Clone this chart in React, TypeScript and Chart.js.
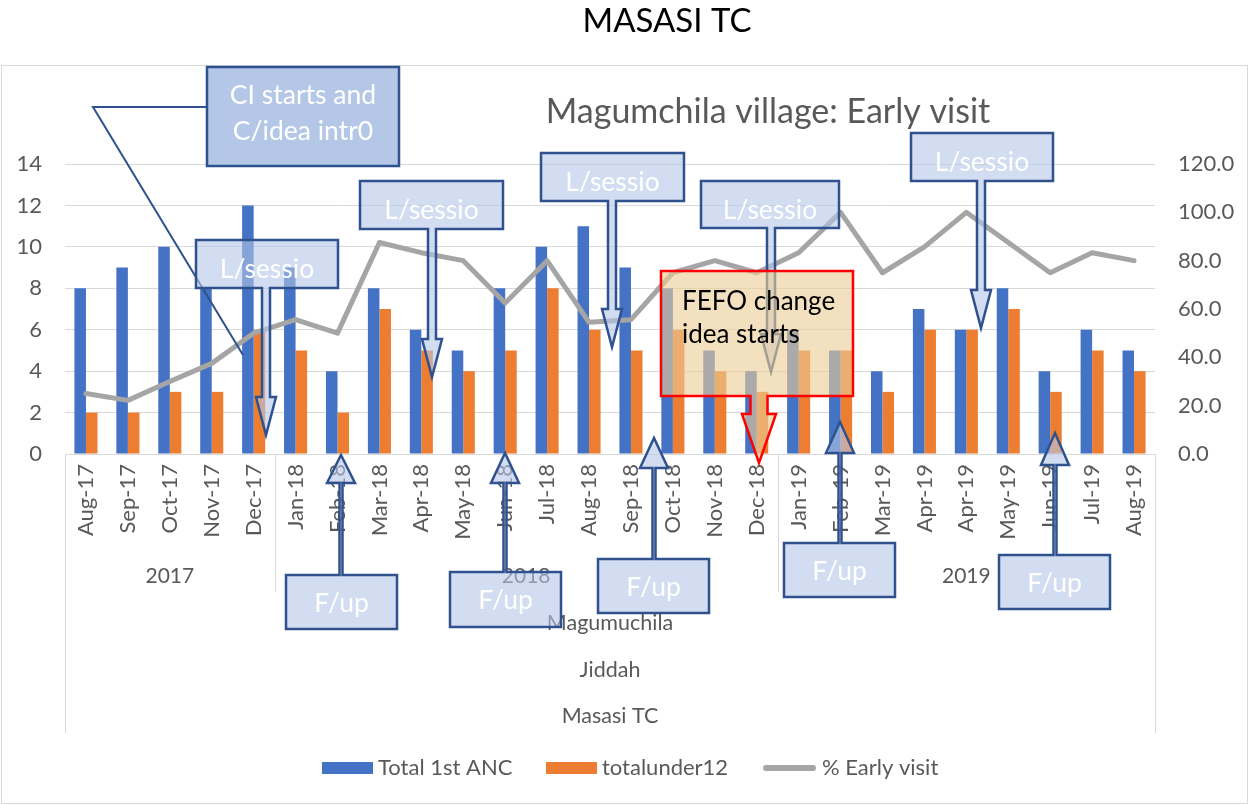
import React, { useEffect, useRef } from "react";
import { Chart, registerables } from "chart.js";
Chart.register(...registerables);

// ---------- data ----------
const months = [
  "Aug-17", "Sep-17", "Oct-17", "Nov-17", "Dec-17",
  "Jan-18", "Feb-18", "Mar-18", "Apr-18", "May-18", "Jun-18", "Jul-18",
  "Aug-18", "Sep-18", "Oct-18", "Nov-18", "Dec-18",
  "Jan-19", "Feb-19", "Mar-19", "Apr-19", "Apr-19", "May-19", "Jun-19", "Jul-19", "Aug-19",
];
const years = ["2017", "2018", "2019"];
const yearMonthCounts = [5, 12, 9];
const outerLevels = ["Magumuchila", "Jiddah", "Masasi TC"];

const total1stANC = [8, 9, 10, 8, 12, 9, 4, 8, 6, 5, 8, 10, 11, 9, 8, 5, 4, 6, 5, 4, 7, 6, 8, 4, 6, 5];
const totalUnder12 = [2, 2, 3, 3, 6, 5, 2, 7, 5, 4, 5, 8, 6, 5, 6, 4, 3, 5, 5, 3, 6, 6, 7, 3, 5, 4];
const earlyVisitPct = [
  25.0, 22.2, 30.0, 37.5, 50.0, 55.6, 50.0, 87.5, 83.3, 80.0, 62.5, 80.0,
  54.5, 55.6, 75.0, 80.0, 75.0, 83.3, 100.0, 75.0, 85.7, 100.0, 87.5, 75.0, 83.3, 80.0,
];

const chartTitle = "MASASI TC";
const innerTitle = "Magumchila village: Early visit";
const seriesNames = ["Total 1st ANC", "totalunder12", "% Early visit"];

// ---------- annotation shapes (overlay drawings, pixel layout) ----------
const lSessions = [
  { x0: 196, x1: 338, y0: 240, y1: 288, sx: 266, hy: 397, ty: 435 },
  { x0: 360, x1: 503, y0: 181, y1: 229, sx: 432, hy: 339, ty: 377 },
  { x0: 541, x1: 684, y0: 153, y1: 201, sx: 612, hy: 309, ty: 347 },
  { x0: 911, x1: 1053, y0: 133, y1: 181, sx: 981, hy: 290, ty: 328 },
  { x0: 701, x1: 839, y0: 181, y1: 228, sx: 771, hy: 334, ty: 372 },
];
const fUps = [
  { x0: 286, x1: 397, y0: 575, y1: 629, sx: 341, hy: 483, ty: 455 },
  { x0: 450, x1: 561, y0: 572, y1: 627, sx: 505, hy: 483, ty: 453 },
  { x0: 598, x1: 709, y0: 559, y1: 613, sx: 654, hy: 468, ty: 438 },
  { x0: 784, x1: 895, y0: 543, y1: 597, sx: 840, hy: 453, ty: 422 },
  { x0: 999, x1: 1110, y0: 555, y1: 609, sx: 1055, hy: 465, ty: 433 },
];

const FONT = "Lato";
const GREY_TEXT = "#595959";
const GRID = "#D9D9D9";
const DARK_BLUE = "#2F528F";
const LIGHT_FILL = "rgba(180,199,231,0.6)";

function downCallout(ctx: CanvasRenderingContext2D, a: any, sw: number, hw: number, fill: string, stroke: string) {
  ctx.beginPath();
  ctx.moveTo(a.x0, a.y0);
  ctx.lineTo(a.x1, a.y0);
  ctx.lineTo(a.x1, a.y1);
  ctx.lineTo(a.sx + sw / 2, a.y1);
  ctx.lineTo(a.sx + sw / 2, a.hy);
  ctx.lineTo(a.sx + hw / 2, a.hy);
  ctx.lineTo(a.sx, a.ty);
  ctx.lineTo(a.sx - hw / 2, a.hy);
  ctx.lineTo(a.sx - sw / 2, a.hy);
  ctx.lineTo(a.sx - sw / 2, a.y1);
  ctx.lineTo(a.x0, a.y1);
  ctx.closePath();
  ctx.fillStyle = fill;
  ctx.fill();
  ctx.strokeStyle = stroke;
  ctx.lineWidth = 2.5;
  ctx.lineJoin = "miter";
  ctx.stroke();
}

function upCallout(ctx: CanvasRenderingContext2D, a: any, sw: number, hw: number) {
  ctx.beginPath();
  ctx.moveTo(a.x0, a.y1);
  ctx.lineTo(a.x1, a.y1);
  ctx.lineTo(a.x1, a.y0);
  ctx.lineTo(a.sx + sw / 2, a.y0);
  ctx.lineTo(a.sx + sw / 2, a.hy);
  ctx.lineTo(a.sx + hw / 2, a.hy);
  ctx.lineTo(a.sx, a.ty);
  ctx.lineTo(a.sx - hw / 2, a.hy);
  ctx.lineTo(a.sx - sw / 2, a.hy);
  ctx.lineTo(a.sx - sw / 2, a.y0);
  ctx.lineTo(a.x0, a.y0);
  ctx.closePath();
  ctx.fillStyle = LIGHT_FILL;
  ctx.fill();
  ctx.strokeStyle = DARK_BLUE;
  ctx.lineWidth = 2.5;
  ctx.stroke();
}

const overlayPlugin = {
  id: "overlay",
  beforeDraw(chart: any) {
    const ctx = chart.ctx as CanvasRenderingContext2D;
    ctx.save();
    ctx.fillStyle = "#ffffff";
    ctx.fillRect(0, 0, chart.width, chart.height);
    ctx.strokeStyle = GRID;
    ctx.lineWidth = 1;
    ctx.strokeRect(1.5, 65.5, chart.width - 3, chart.height - 67);
    ctx.restore();
  },
  afterDraw(chart: any) {
    const ctx = chart.ctx as CanvasRenderingContext2D;
    const xs = chart.scales.x;
    const area = chart.chartArea;
    ctx.save();

    // multi-level category box
    ctx.strokeStyle = GRID;
    ctx.lineWidth = 1;
    const vline = (x: number, y0: number, y1: number) => {
      ctx.beginPath();
      ctx.moveTo(Math.round(x) + 0.5, y0);
      ctx.lineTo(Math.round(x) + 0.5, y1);
      ctx.stroke();
    };
    vline(area.left, area.bottom, 733);
    vline(area.right, area.bottom, 733);
    let idx = 0;
    ctx.fillStyle = GREY_TEXT;
    ctx.font = `21px ${FONT}`;
    ctx.textAlign = "center";
    ctx.textBaseline = "alphabetic";
    years.forEach((yr, k) => {
      const first = idx;
      const last = idx + yearMonthCounts[k] - 1;
      const left = k === 0 ? area.left : (xs.getPixelForValue(first - 1) + xs.getPixelForValue(first)) / 2;
      const right = k === years.length - 1 ? area.right : (xs.getPixelForValue(last) + xs.getPixelForValue(last + 1)) / 2;
      if (k > 0) vline(left, area.bottom, 592);
      ctx.fillText(yr, (left + right) / 2, 583);
      idx += yearMonthCounts[k];
    });
    const midX = (area.left + area.right) / 2;
    const levelY = [630, 677, 723];
    ctx.font = `21.5px ${FONT}`;
    outerLevels.forEach((t, k) => ctx.fillText(t, midX, levelY[k]));

    // titles
    ctx.fillStyle = "#000000";
    ctx.font = `33px ${FONT}`;
    ctx.fillText(chartTitle, 667, 32);
    ctx.fillStyle = GREY_TEXT;
    ctx.font = `34px ${FONT}`;
    ctx.fillText(innerTitle, 768, 123);

    // legend
    ctx.textAlign = "left";
    ctx.textBaseline = "middle";
    ctx.font = `22px ${FONT}`;
    ctx.fillStyle = "#4472C4";
    ctx.fillRect(322, 762, 51, 12);
    ctx.fillStyle = "#ED7D31";
    ctx.fillRect(546, 762, 51, 12);
    ctx.strokeStyle = "#A5A5A5";
    ctx.lineWidth = 6;
    ctx.lineCap = "round";
    ctx.beginPath();
    ctx.moveTo(766, 768);
    ctx.lineTo(813, 768);
    ctx.stroke();
    ctx.lineCap = "butt";
    ctx.fillStyle = GREY_TEXT;
    ctx.fillText(seriesNames[0], 378, 768);
    ctx.fillText(seriesNames[1], 602, 768);
    ctx.fillText(seriesNames[2], 822, 768);

    // CI callout
    ctx.strokeStyle = DARK_BLUE;
    ctx.lineWidth = 2;
    ctx.beginPath();
    ctx.moveTo(207, 107);
    ctx.lineTo(93, 107);
    ctx.lineTo(243, 355);
    ctx.stroke();
    ctx.fillStyle = "#B4C7E7";
    ctx.fillRect(207, 67, 192, 99);
    ctx.lineWidth = 2.5;
    ctx.strokeRect(207, 67, 192, 99);
    ctx.fillStyle = "#ffffff";
    ctx.textAlign = "center";
    ctx.textBaseline = "alphabetic";
    ctx.font = `26.5px ${FONT}`;
    ctx.fillText("CI starts and", 303, 104);
    ctx.fillText("C/idea intr0", 303, 140);

    // L/sessio callouts
    lSessions.forEach((a) => {
      downCallout(ctx, a, 8, 20, LIGHT_FILL, DARK_BLUE);
      ctx.fillStyle = "#ffffff";
      ctx.font = `26.5px ${FONT}`;
      ctx.textAlign = "center";
      ctx.fillText("L/sessio", (a.x0 + a.x1) / 2, a.y0 + 38);
    });

    // F/up callouts
    fUps.forEach((a) => {
      upCallout(ctx, a, 3, 28);
      ctx.fillStyle = "#ffffff";
      ctx.font = `26.5px ${FONT}`;
      ctx.textAlign = "center";
      ctx.fillText("F/up", (a.x0 + a.x1) / 2, a.y0 + 37);
    });

    // FEFO callout
    downCallout(
      ctx,
      { x0: 661, x1: 853, y0: 271, y1: 396, sx: 759, hy: 414, ty: 463 },
      17,
      34,
      "rgba(235,205,150,0.62)",
      "#FF0000"
    );
    ctx.fillStyle = "#000000";
    ctx.textAlign = "left";
    ctx.font = `26px ${FONT}`;
    ctx.fillText("FEFO change", 682, 310);
    ctx.fillText("idea starts", 682, 343);

    ctx.restore();
  },
};

export default function App() {
  const ref = useRef<HTMLCanvasElement>(null);
  useEffect(() => {
    if (!ref.current) return;
    Chart.defaults.font.family = FONT;
    const chart = new Chart(ref.current, {
      type: "bar",
      data: {
        labels: months,
        datasets: [
          {
            type: "line",
            label: seriesNames[2],
            data: earlyVisitPct,
            yAxisID: "y1",
            borderColor: "#A5A5A5",
            backgroundColor: "#A5A5A5",
            borderWidth: 5,
            pointRadius: 0,
            tension: 0,
            borderJoinStyle: "round",
            borderCapStyle: "round",
            order: 0,
          } as any,
          {
            type: "bar",
            label: seriesNames[0],
            data: total1stANC,
            yAxisID: "y",
            backgroundColor: "#4472C4",
            categoryPercentage: 0.55,
            barPercentage: 1.0,
            order: 1,
          },
          {
            type: "bar",
            label: seriesNames[1],
            data: totalUnder12,
            yAxisID: "y",
            backgroundColor: "#ED7D31",
            categoryPercentage: 0.55,
            barPercentage: 1.0,
            order: 1,
          },
        ],
      },
      options: {
        responsive: false,
        devicePixelRatio: 1,
        animation: false,
        events: [],
        layout: { padding: { top: 164, bottom: 51, left: 0, right: 0 } },
        plugins: {
          legend: { display: false },
          title: { display: false },
          tooltip: { enabled: false },
        },
        scales: {
          x: {
            grid: { display: false, drawTicks: false },
            border: { display: true, color: GRID },
            ticks: {
              autoSkip: false,
              minRotation: 90,
              maxRotation: 90,
              padding: 10,
              color: GREY_TEXT,
              font: { size: 22, family: FONT },
            },
            afterFit: (s: any) => {
              s.height = 300;
            },
          },
          y: {
            position: "left",
            min: 0,
            max: 14,
            ticks: { stepSize: 2, padding: 23, color: GREY_TEXT, font: { size: 22, family: FONT } },
            grid: { color: GRID, lineWidth: 1, drawTicks: false },
            border: { display: false },
            afterFit: (s: any) => {
              s.width = 65;
            },
          },
          y1: {
            position: "right",
            min: 0,
            max: 120,
            ticks: {
              stepSize: 20,
              padding: 23,
              color: GREY_TEXT,
              font: { size: 22, family: FONT },
              callback: (v: any) => Number(v).toFixed(1),
            },
            grid: { display: false, drawTicks: false },
            border: { display: false },
            afterFit: (s: any) => {
              s.width = 94;
            },
          },
        },
      },
      plugins: [overlayPlugin],
    });
    return () => chart.destroy();
  }, []);
  return (
    <div style={{ position: "absolute", left: 0, top: 0, width: 1249, height: 805 }}>
      <canvas ref={ref} width={1249} height={805} style={{ display: "block" }} />
    </div>
  );
}
